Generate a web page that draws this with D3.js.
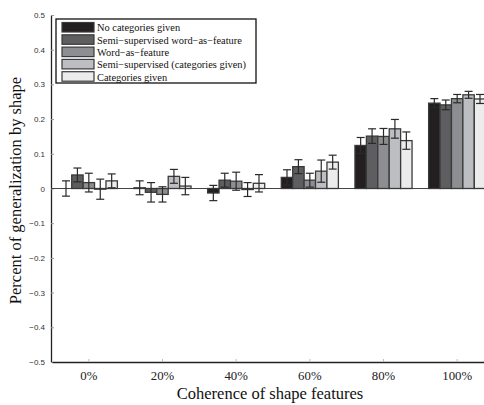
<!DOCTYPE html>
<html>
<head>
<meta charset="utf-8">
<script src="https://cdn.jsdelivr.net/npm/d3@7"></script>
<style>
  body { margin: 0; background: #fff; }
  svg { display: block; }
</style>
</head>
<body>
<div id="graph"></div>
<script>
// Data
const categories = ["0%", "20%", "40%", "60%", "80%", "100%"];
const series = [
  "No categories given",
  "Semi\u2212supervised word\u2212as\u2212feature",
  "Word\u2212as\u2212feature",
  "Semi\u2212supervised (categories given)",
  "Categories given"
];
const seriesColors = ["#231f20", "#5e5e60", "#8d8e91", "#bdbec1", "#ececec"];

// values[series][category]
const values = [
  [0.000, 0.002, -0.013, 0.032, 0.124, 0.246],
  [0.039, -0.011, 0.024, 0.063, 0.151, 0.241],
  [0.017, -0.017, 0.021, 0.024, 0.150, 0.259],
  [-0.002, 0.035, -0.003, 0.050, 0.172, 0.270],
  [0.022, 0.007, 0.015, 0.076, 0.138, 0.258]
];
const errors = [
  [0.022, 0.020, 0.022, 0.022, 0.023, 0.013],
  [0.020, 0.028, 0.020, 0.020, 0.021, 0.014],
  [0.027, 0.022, 0.026, 0.020, 0.023, 0.012],
  [0.029, 0.020, 0.020, 0.032, 0.027, 0.010],
  [0.020, 0.025, 0.025, 0.020, 0.025, 0.013]
];
const yTicks = [-0.5, -0.4, -0.3, -0.2, -0.1, 0, 0.1, 0.2, 0.3, 0.4, 0.5];

const serif = '"Liberation Serif", "Times New Roman", serif';
const sans = '"Liberation Sans", Arial, sans-serif';

const width = 484;
const height = 405;
const marginTop = 15;
const marginBottom = 43;
const marginLeft = 51;
const plotRight = 494; // axes run past the right edge of the picture

const svg = d3.select("#graph").append("svg")
    .attr("width", width)
    .attr("height", height);

const x = d3.scaleBand()
    .domain(categories)
    .range([marginLeft + 1, plotRight])
    .paddingInner(0.225)
    .paddingOuter(0.1125);

const xs = d3.scaleBand()
    .domain(d3.range(series.length))
    .range([0, x.bandwidth()]);

const y = d3.scaleLinear()
    .domain([-0.5, 0.5])
    .range([height - marginBottom, marginTop]);

// y axis
svg.append("g")
    .attr("transform", `translate(${marginLeft},0)`)
    .call(d3.axisLeft(y).tickValues(yTicks).tickSizeInner(-3).tickSizeOuter(0).tickPadding(6)
      .tickFormat(d => d === 0 ? "0" : d3.format(".1f")(d).replace("-", "\u2212")))
    .call(g => g.select(".domain").attr("stroke", "#222").attr("stroke-width", 1.3))
    .call(g => g.selectAll(".tick line").attr("stroke", "#999"))
    .call(g => g.selectAll("text")
      .style("font-family", sans)
      .style("font-size", "8px")
      .attr("fill", "#333"));

// x axis
svg.append("g")
    .attr("transform", `translate(0,${y(-0.5)})`)
    .call(d3.axisBottom(x).tickSizeInner(-3).tickSizeOuter(0).tickPadding(9))
    .call(g => g.select(".domain").attr("stroke", "#222").attr("stroke-width", 1.3))
    .call(g => g.selectAll(".tick line").attr("stroke", "#bbb"))
    .call(g => g.selectAll("text")
      .style("font-family", serif)
      .style("font-size", "12.8px")
      .attr("fill", "#222"));

// zero line
svg.append("line")
    .attr("x1", marginLeft)
    .attr("x2", plotRight)
    .attr("y1", y(0))
    .attr("y2", y(0))
    .attr("stroke", "#444")
    .attr("stroke-width", 1.2);

// bars
const flat = [];
series.forEach((s, i) => {
  categories.forEach((c, j) => {
    flat.push({ s: i, c: c, v: values[i][j], e: errors[i][j] });
  });
});

svg.append("g")
  .selectAll("rect")
  .data(flat)
  .join("rect")
    .attr("x", d => x(d.c) + xs(d.s))
    .attr("width", xs.bandwidth())
    .attr("y", d => y(Math.max(0, d.v)))
    .attr("height", d => Math.abs(y(d.v) - y(0)))
    .attr("fill", d => seriesColors[d.s])
    .attr("stroke", "#3a3a3a")
    .attr("stroke-width", 1.3);

// error bars
const capW = xs.bandwidth() * 0.35;
const eb = svg.append("g")
    .attr("stroke", "#2a2a2a")
    .attr("stroke-width", 1.2);

flat.forEach(d => {
  const cx = x(d.c) + xs(d.s) + xs.bandwidth() / 2;
  eb.append("line").attr("x1", cx).attr("x2", cx).attr("y1", y(d.v + d.e)).attr("y2", y(d.v - d.e));
  eb.append("line").attr("x1", cx - capW).attr("x2", cx + capW).attr("y1", y(d.v + d.e)).attr("y2", y(d.v + d.e));
  eb.append("line").attr("x1", cx - capW).attr("x2", cx + capW).attr("y1", y(d.v - d.e)).attr("y2", y(d.v - d.e));
});

// legend
const legend = svg.append("g").attr("transform", "translate(56,19)");
legend.append("rect")
    .attr("width", 200)
    .attr("height", 64)
    .attr("fill", "#fff")
    .attr("stroke", "#111")
    .attr("stroke-width", 1.3);

series.forEach((s, i) => {
  const row = legend.append("g").attr("transform", `translate(0,${3.5 + i * 12.3})`);
  row.append("rect")
      .attr("x", 6)
      .attr("width", 32)
      .attr("height", 9.5)
      .attr("fill", seriesColors[i])
      .attr("stroke", "#3a3a3a")
      .attr("stroke-width", 1.2);
  row.append("text")
      .attr("x", 41)
      .attr("y", 8.8)
      .style("font-family", serif)
      .style("font-size", "10.4px")
      .attr("fill", "#111")
      .text(s);
});

// axis titles
svg.append("text")
    .attr("x", 270)
    .attr("y", 399)
    .attr("text-anchor", "middle")
    .style("font-family", serif)
    .style("font-size", "16.5px")
    .attr("fill", "#111")
    .text("Coherence of shape features");

svg.append("text")
    .attr("transform", `translate(21,${y(0) + 2}) rotate(-90)`)
    .attr("text-anchor", "middle")
    .style("font-family", serif)
    .style("font-size", "16.5px")
    .attr("fill", "#111")
    .text("Percent of generalization by shape");
</script>
</body>
</html>
